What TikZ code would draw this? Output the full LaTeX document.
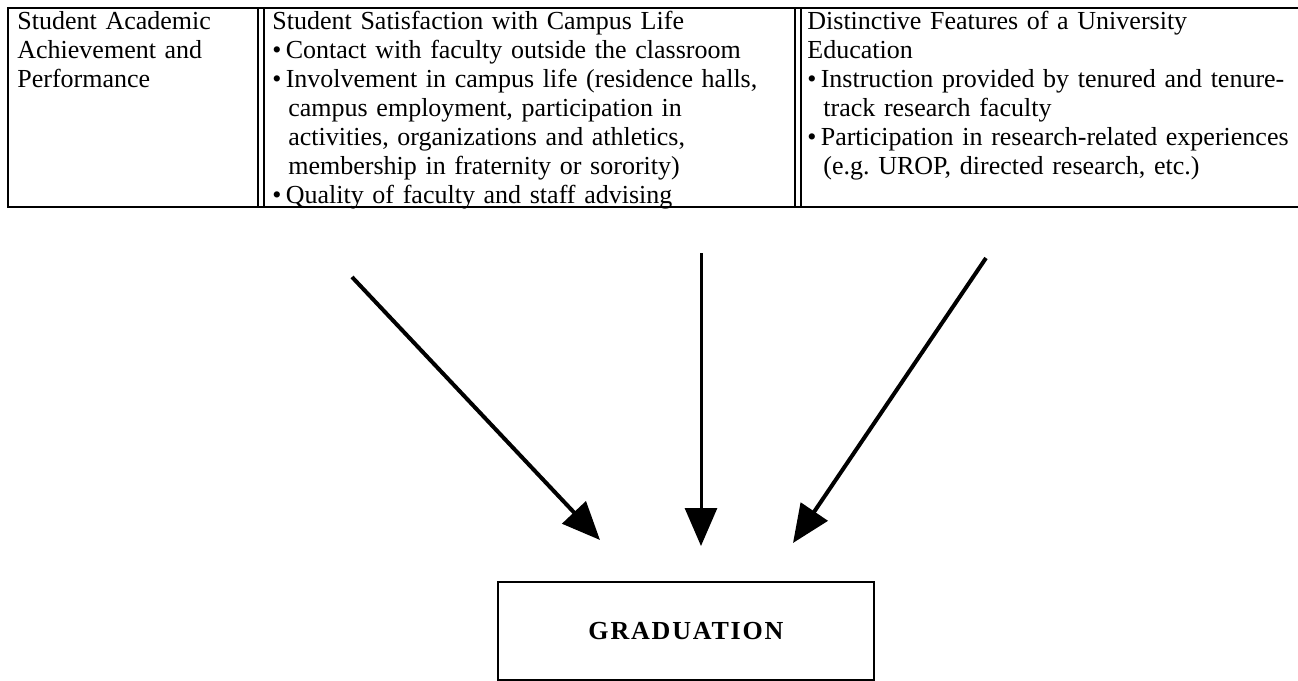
\documentclass[tikz,border=0pt]{standalone}
\usepackage{fontspec}
\setmainfont{Liberation Serif}
\usetikzlibrary{arrows.meta}

\newcommand{\bul}{\par\hangindent=8pt\hangafter=1\noindent\textbullet\,}

\begin{document}
\begin{tikzpicture}[x=0.5pt, y=-0.5pt, line width=1.4pt,
		cell/.style={anchor=north west, inner sep=0pt, align=left,
			font=\fontsize{13}{14.5}\selectfont},
		feed/.style={line width=2pt, -{Triangle[length=19pt, width=16pt]}}]
		\useasboundingbox (0, 0) rectangle (1298, 681);

		\draw (1298, 8) -- (8, 8) -- (8, 207) -- (1298, 207);
		\draw (258, 8) -- (258, 207);
		\draw[line width=0.6pt] (264, 8) -- (264, 207);
		\draw (795, 8) -- (795, 207);
		\draw[line width=0.9pt] (801, 8) -- (801, 207);

		\node[cell, text width=118pt] (ach) at (16, 10)
			{Student Academic\newline Achievement and\newline Performance\par};
		\node[cell, text width=262pt] (sat) at (271, 10)
			{Student Satisfaction with Campus Life
			\bul Contact with faculty outside the classroom
			\bul Involvement in campus life (residence halls,\newline campus employment, participation in\newline activities, organizations and athletics,\newline membership in fraternity or sorority)
			\bul Quality of faculty and staff advising\par};
		\node[cell, text width=256pt] (dist) at (806, 10)
			{Distinctive Features of a University\newline Education
			\bul Instruction provided by tenured and tenure-\newline track research faculty
			\bul Participation in research-related experiences\newline (e.g.\ UROP, directed research, etc.)\par};

		\node[draw, minimum width=188pt, minimum height=49pt,
			font=\fontsize{13}{15}\selectfont\bfseries\addfontfeature{LetterSpace=7}]
			(grad) at (686, 631) {GRADUATION};

		\coordinate (s1) at (352, 277);
		\coordinate (t1) at (600, 540);
		\coordinate (s2) at (701, 253);
		\coordinate (t2) at (701, 546);
		\coordinate (s3) at (986, 258);
		\coordinate (t3) at (793, 543);
		\draw[feed] (s1) -- (t1);
		\draw[feed, line width=1.5pt] (s2) -- (t2);
		\draw[feed] (s3) -- (t3);
	\end{tikzpicture}
\end{document}
